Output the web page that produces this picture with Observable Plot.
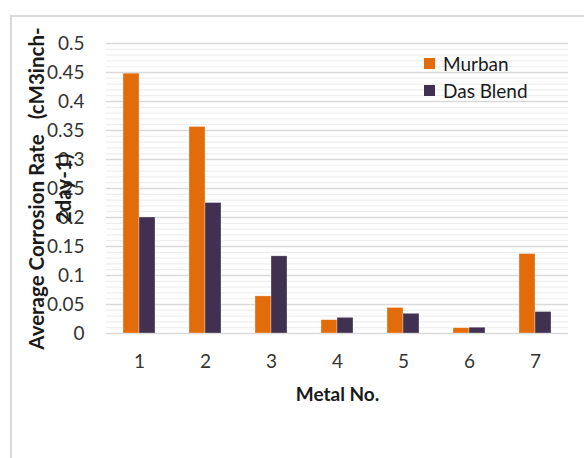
<!DOCTYPE html>
<html>
<head>
<meta charset="utf-8">
<script src="https://cdn.jsdelivr.net/npm/d3@7"></script>
<script src="https://cdn.jsdelivr.net/npm/@observablehq/plot@0.6"></script>
<style>
  html, body { margin: 0; padding: 0; background: #fff; }
  #wrap { position: relative; width: 584px; height: 458px; overflow: hidden; font-family: Lato, sans-serif; }
  #border { position: absolute; left: 10px; top: 15px; width: 700px; height: 600px; border-left: 2px solid #d9d9d9; border-top: 2px solid #d9d9d9; }
  #chart { position: absolute; left: 0; top: 0; }
  #legend { position: absolute; left: 424px; top: 50px; font-family: Lato, sans-serif; font-size: 19px; color: #1a1a1a; }
  #legend .row { display: flex; align-items: center; height: 27px; }
  #legend .sw { width: 11px; height: 11px; margin-right: 8px; }
</style>
</head>
<body>
<div id="wrap">
  <div id="border"></div>
  <div id="chart"></div>
  <div id="legend"></div>
</div>
<script>
const metals = ["1", "2", "3", "4", "5", "6", "7"];
const murban = [0.448, 0.356, 0.064, 0.023, 0.044, 0.009, 0.137];
const dasBlend = [0.200, 0.225, 0.133, 0.027, 0.034, 0.010, 0.037];
const seriesNames = ["Murban", "Das Blend"];
const seriesColors = ["#E36C0A", "#403151"];
const yTicks = [0, 0.05, 0.1, 0.15, 0.2, 0.25, 0.3, 0.35, 0.4, 0.45, 0.5];
const yTickLabels = ["0", "0.05", "0.1", "0.15", "0.2", "0.25", "0.3", "0.35", "0.4", "0.45", "0.5"];
const yTitle = "Average Corrosion Rate   (cM3inch-\n2day-1)";
const xTitle = "Metal No.";
const yMinor = d3.range(0, 51).map(i => i / 100).filter(v => Math.round(v * 100) % 5 !== 0);

const data = metals.flatMap((m, i) => [
  {metal: m, series: seriesNames[0], value: murban[i]},
  {metal: m, series: seriesNames[1], value: dasBlend[i]}
]);

const chart = Plot.plot({
  width: 584,
  height: 458,
  marginLeft: 103,
  marginRight: 13,
  marginTop: 43,
  marginBottom: 125,
  style: {fontFamily: "Lato, sans-serif", background: "transparent"},
  fx: {domain: metals, padding: 0, label: null},
  x: {domain: seriesNames, paddingInner: 0, paddingOuter: 1.03, axis: null},
  y: {domain: [0, 0.5], label: null},
  color: {domain: seriesNames, range: seriesColors},
  marks: [
    Plot.ruleY(yMinor, {stroke: "#efefef", strokeWidth: 1.3}),
    Plot.ruleY(yTicks, {stroke: "#d9d9d9", strokeWidth: 1.6}),
    Plot.barY(data, {fx: "metal", x: "series", y: "value", fill: "series", stroke: "#ffffff", strokeOpacity: 0.5, strokeWidth: 0.6}),
    Plot.axisY({
      ticks: yTicks,
      tickFormat: (d, i) => yTickLabels[i],
      tickSize: 0,
      tickPadding: 22,
      fontSize: 19,
      fill: "#333333",
      label: null
    }),
    Plot.text([yTitle], {
      facetAnchor: "left",
      frameAnchor: "left",
      text: d => d,
      rotate: -90,
      dx: -58,
      textAnchor: "middle",
      lineAnchor: "middle",
      lineHeight: 1.32,
      fontSize: 20.5,
      fontWeight: "bold",
      fill: "#1a1a1a"
    }),
    Plot.axisFx({
      anchor: "bottom",
      tickSize: 0,
      tickPadding: 21,
      fontSize: 19,
      fill: "#333333",
      label: xTitle,
      labelAnchor: "center",
      labelOffset: 67
    })
  ]
});
document.getElementById("chart").appendChild(chart);

chart.querySelectorAll('[aria-label="fx-axis label"]').forEach(g => {
  g.setAttribute("font-weight", "bold");
  g.setAttribute("fill", "#1a1a1a");
});

const legend = document.getElementById("legend");
seriesNames.forEach((s, i) => {
  const row = document.createElement("div");
  row.className = "row";
  const sw = document.createElement("span");
  sw.className = "sw";
  sw.style.background = seriesColors[i];
  const t = document.createElement("span");
  t.textContent = s;
  row.appendChild(sw);
  row.appendChild(t);
  legend.appendChild(row);
});
</script>
</body>
</html>
